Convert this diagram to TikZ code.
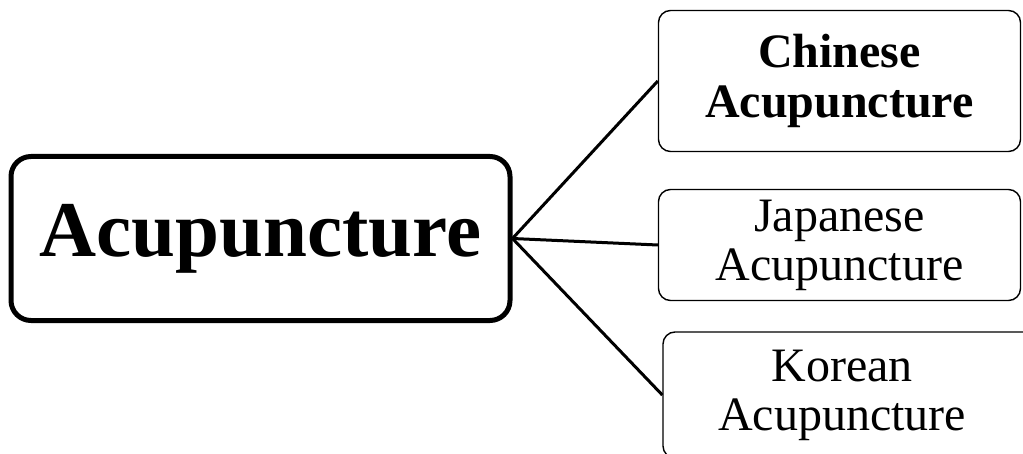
\documentclass[tikz,border=0pt]{standalone}
\usepackage{fontspec}
\setmainfont{Liberation Serif}
\begin{document}
\begin{tikzpicture}[x=1pt,y=1pt,
  mainbox/.style={draw, line width=5pt, rounded corners=20pt, minimum width=499pt, minimum height=164pt, inner sep=0pt, font=\fontsize{79}{80}\selectfont\bfseries},
  subbox/.style={draw, line width=1.4pt, rounded corners=12pt, inner sep=0pt, align=center, font=\fontsize{48}{49}\selectfont},
  link/.style={line width=3pt}]
\useasboundingbox (0,0) rectangle (1023,453);
\node[mainbox] (main) at (260.5,214.5) {Acupuncture};
\node[subbox, minimum width=362pt, minimum height=141pt, font=\fontsize{48}{50}\selectfont\bfseries] (chinese) at (839.5,372) {Chinese\\Acupuncture};
\node[subbox, minimum width=362pt, minimum height=111pt] (japanese) at (839.5,208) {Japanese\\Acupuncture};
\node[subbox, minimum height=126pt, text width=300pt, minimum width=372pt] (korean) at (849,58) {\hspace*{-14pt}Korean\\\hspace*{-14pt}Acupuncture};
\draw[link] (main.east) -- (chinese.west);
\draw[link] (main.east) -- (japanese.west);
\draw[link] (main.east) -- (korean.west);
\end{tikzpicture}
\end{document}
